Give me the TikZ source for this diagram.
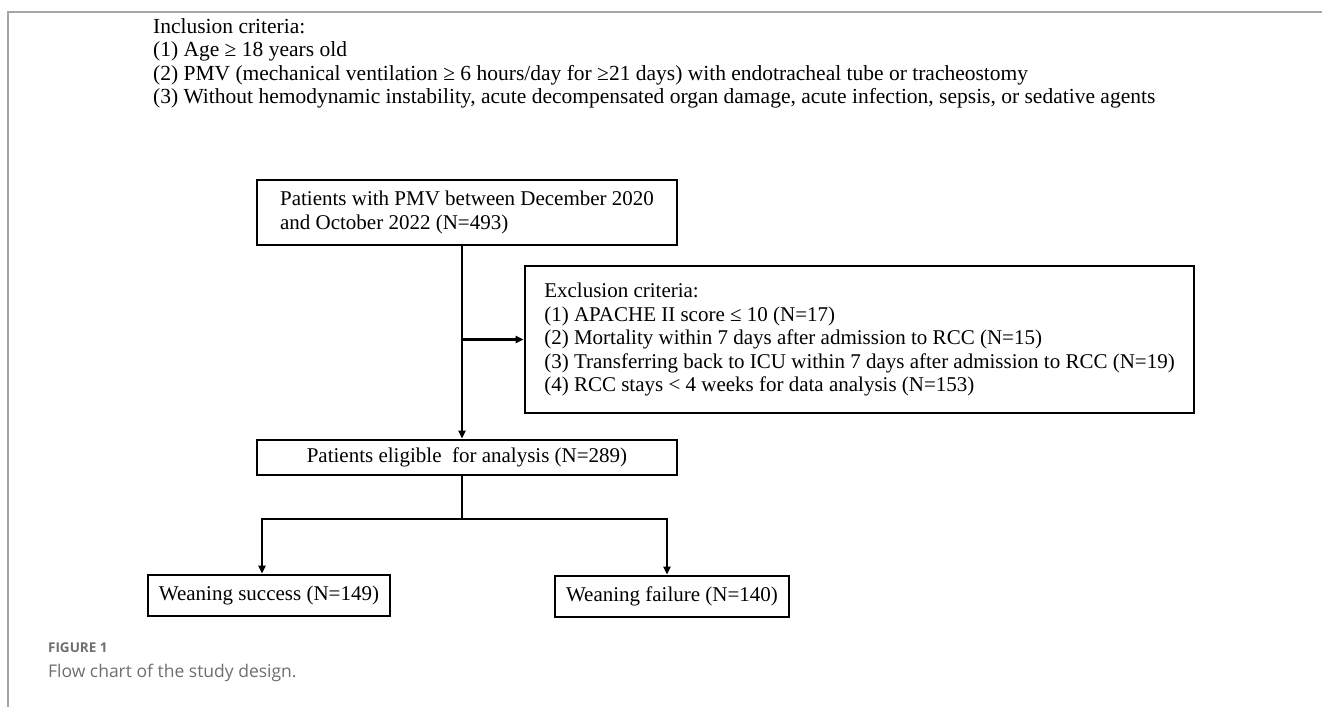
\documentclass[tikz,border=0pt]{standalone}
\usepackage{fontspec}
\setmainfont{Liberation Serif}
\newfontfamily\capfont{Open Sans}
\usetikzlibrary{arrows.meta, positioning}
\definecolor{framegray}{HTML}{A6A6A6}
\definecolor{capgray}{HTML}{6E6E6E}

\begin{document}
\begin{tikzpicture}[x=1pt, y=-1pt, >={Triangle[length=8pt,width=7pt]}, line width=2.2pt,
  box/.style={draw, line width=2.8pt, inner ysep=0pt, font=\fontsize{21}{24.5}\selectfont},
  crit/.style={inner sep=0pt, align=left, font=\fontsize{21.5}{23.5}\selectfont},
  caption/.style={anchor=base west, inner sep=0pt, text=capgray}]
\useasboundingbox (0,0) rectangle (1322,707);
\draw[framegray, line width=1.5pt] (8,707) -- (8,12) -- (1322,12);

\node[crit, anchor=north west] (incl) at (152,17) {Inclusion criteria:\\
  (1) Age ≥ 18 years old\\
  (2) PMV (mechanical ventilation ≥ 6 hours/day for ≥21 days) with endotracheal tube or tracheostomy\\
  (3) Without hemodynamic instability, acute decompensated organ damage, acute infection, sepsis, or sedative agents};

\node[box, minimum width=420pt, minimum height=65pt, align=left] (pmv) at (467,212.5)
  {Patients with PMV between December 2020\\ and October 2022 (N=493)};
\node[box, minimum width=669pt, minimum height=147pt, align=left, font=\fontsize{21}{23.5}\selectfont] (excl) at (859.5,339.5)
  {Exclusion criteria:\\
   (1) APACHE II score ≤ 10 (N=17)\\
   (2) Mortality within 7 days after admission to RCC (N=15)\\
   (3) Transferring back to ICU within 7 days after admission to RCC (N=19)\\
   (4) RCC stays < 4 weeks for data analysis (N=153)};
\node[box, minimum width=420pt, minimum height=35pt] (elig) at (467,457.5) {Patients eligible \ for analysis (N=289)};
\node[box, minimum width=242pt, minimum height=41pt] (succ) at (269,595.5) {Weaning success (N=149)};
\node[box, minimum width=234pt, minimum height=41pt] (fail) at (672,596.5) {Weaning failure (N=140)};

\coordinate (trunk) at (462,0);
\coordinate (fork) at (462,519);

\draw[->] (pmv.south -| trunk) -- (elig.north -| trunk);
\draw[->] (trunk |- excl.west) -- (excl.west);
\draw (elig.south -| fork) -- (fork);
\draw[->] (fork) -| ([xshift=-7pt]succ.north);
\draw[->] (fork) -| ([xshift=-5pt]fail.north);

\node[caption, font=\capfont\bfseries\fontsize{13.5}{16}\selectfont] (fig) at (47,652) {FIGURE 1};
\node[caption, font=\capfont\fontsize{17.5}{20}\selectfont] (cap) at (47,677) {Flow chart of the study design.};
\end{tikzpicture}
\end{document}
